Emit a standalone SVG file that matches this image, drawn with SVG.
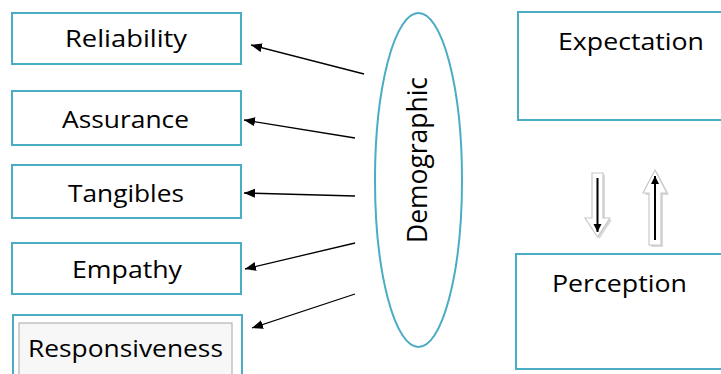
<svg xmlns="http://www.w3.org/2000/svg" width="721" height="374" viewBox="0 0 721 374">
<style>
.box{fill:#fff;stroke:#4bacc6;stroke-width:2}
.lbl{font-family:"Open Sans","Noto Sans",sans-serif;font-size:24px;fill:#000}
.conn{stroke:#000;stroke-width:1.3;fill:none;marker-end:url(#ah)}
.blk{fill:#fff;stroke:#c8c8c8;stroke-width:1.2}
.shadow{fill:#d9d9d9}
.inner{stroke:#000;stroke-width:2;fill:none;marker-end:url(#ah2)}
</style>
<defs>
<marker id="ah" markerUnits="userSpaceOnUse" markerWidth="12" markerHeight="10" refX="11" refY="4.5" orient="auto"><path d="M0,0 L11,4.5 L0,9 Z" fill="#000"/></marker>
<marker id="ah2" markerUnits="userSpaceOnUse" markerWidth="10" markerHeight="10" refX="8" refY="4" orient="auto"><path d="M0,0 L8,4 L0,8 Z" fill="#000"/></marker>
</defs>
<rect width="721" height="374" fill="#fff"/>
<g id="reliability"><rect class="box" x="12" y="13" width="229" height="51"/><text class="lbl" x="65" y="47" textLength="122" lengthAdjust="spacingAndGlyphs">Reliability</text></g>
<g id="assurance"><rect class="box" x="12" y="91" width="229" height="54"/><text class="lbl" x="62" y="128" textLength="127" lengthAdjust="spacingAndGlyphs">Assurance</text></g>
<g id="tangibles"><rect class="box" x="12" y="165" width="229" height="53"/><text class="lbl" x="68" y="202" textLength="116" lengthAdjust="spacingAndGlyphs">Tangibles</text></g>
<g id="empathy"><rect class="box" x="12" y="243" width="229" height="51"/><text class="lbl" x="72" y="278" textLength="110" lengthAdjust="spacingAndGlyphs">Empathy</text></g>
<g id="responsiveness"><rect class="box" x="13" y="315" width="229" height="70"/><rect x="19" y="323" width="213" height="60" fill="#f7f7f7" stroke="#a6a6a6" stroke-width="1"/><text class="lbl" x="28" y="357" textLength="195" lengthAdjust="spacingAndGlyphs">Responsiveness</text></g>
<g id="demographic"><ellipse cx="418.5" cy="180" rx="43.5" ry="167" fill="#fff" stroke="#4bacc6" stroke-width="2"/><text class="lbl" transform="translate(427,243) rotate(-90)" x="0" y="0" style="font-size:27px" textLength="166" lengthAdjust="spacingAndGlyphs">Demographic</text></g>
<g id="expectation"><rect class="box" x="518" y="12" width="215" height="108"/><text class="lbl" x="558" y="50" textLength="146" lengthAdjust="spacingAndGlyphs">Expectation</text></g>
<g id="perception"><rect class="box" x="516" y="254" width="215" height="115"/><text class="lbl" x="552" y="292" textLength="135" lengthAdjust="spacingAndGlyphs">Perception</text></g>
<g id="connectors">
<line class="conn" x1="364" y1="74" x2="251" y2="45"/>
<line class="conn" x1="355" y1="138" x2="244" y2="120"/>
<line class="conn" x1="355" y1="196" x2="244" y2="193"/>
<line class="conn" x1="355" y1="243" x2="245" y2="269"/>
<line class="conn" x1="355" y1="294" x2="252" y2="328"/>
<g id="down-arrow">
<polygon class="shadow" points="594,175 605,175 605,220 612,220 599.5,239 587,220 594,220"/>
<polygon class="blk" points="592,173 603,173 603,218 610,218 597.5,237 585,218 592,218"/>
<line class="inner" x1="597.5" y1="178" x2="597.5" y2="232"/>
</g>
<g id="up-arrow">
<polygon class="shadow" points="651,247 663,247 663,195 669,195 657,172 645,195 651,195"/>
<polygon class="blk" points="649,245 661,245 661,193 667,193 655,170 643,193 649,193"/>
<line class="inner" x1="655" y1="240" x2="655" y2="176"/>
</g>
</g>
</svg>
